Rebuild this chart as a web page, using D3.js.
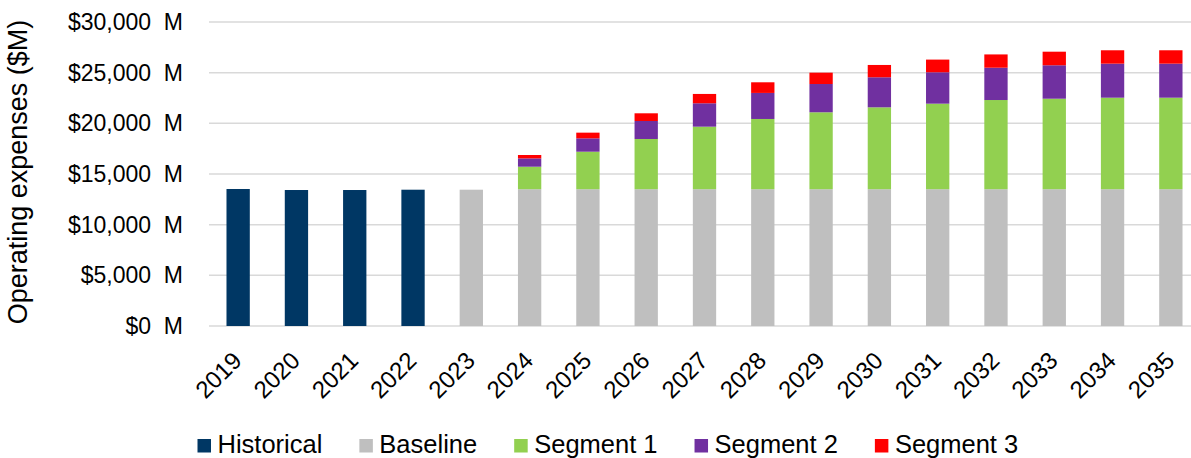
<!DOCTYPE html>
<html>
<head>
<meta charset="utf-8">
<script src="https://cdn.jsdelivr.net/npm/d3@7"></script>
<style>
  html, body { margin: 0; padding: 0; background: #fff; }
  svg { display: block; font-family: "Liberation Sans", Arial, sans-serif; }
  text { white-space: pre; fill: #000; }
</style>
</head>
<body>
<svg id="chart" width="1191" height="458"></svg>
<script>
// Operating expenses by year, $M
const years = ["2019","2020","2021","2022","2023","2024","2025","2026","2027",
               "2028","2029","2030","2031","2032","2033","2034","2035"];
const historical = [13520,13420,13420,13450,0,0,0,0,0,0,0,0,0,0,0,0,0];
const baseline   = [0,0,0,0,13450,13500,13500,13500,13500,13500,13500,13500,13500,13500,13500,13500,13500];
const segment1   = [0,0,0,0,0,2220,3700,4955,6170,6930,7590,8080,8440,8800,8930,9030,9030];
const segment2   = [0,0,0,0,0,820,1320,1775,2310,2570,2790,2965,3100,3190,3300,3360,3360];
const segment3   = [0,0,0,0,0,335,560,760,920,1050,1120,1215,1250,1310,1340,1320,1320];

const seriesNames = ["Historical","Baseline","Segment 1","Segment 2","Segment 3"];
const seriesColors = ["#003764","#BFBFBF","#92D050","#7030A0","#FF0000"];
const yTicks = [0,5000,10000,15000,20000,25000,30000];

const table = years.map((yr, i) => ({
  year: yr,
  "Historical": historical[i],
  "Baseline": baseline[i],
  "Segment 1": segment1[i],
  "Segment 2": segment2[i],
  "Segment 3": segment3[i]
}));

const svg = d3.select("#chart");
const plotLeft = 209, plotRight = 1200, plotTop = 22, plotBottom = 326;

const x = d3.scaleBand().domain(years).range([plotLeft, plotRight])
  .paddingInner(0.6).paddingOuter(0.3);
const y = d3.scaleLinear().domain([0, 30000]).range([plotBottom, plotTop]);
const color = d3.scaleOrdinal().domain(seriesNames).range(seriesColors);

// gridlines
svg.append("g").selectAll("line").data(yTicks).join("line")
  .attr("x1", plotLeft).attr("x2", 1191)
  .attr("y1", d => y(d)).attr("y2", d => y(d))
  .attr("stroke", "#D9D9D9").attr("stroke-width", 1.5);

// y axis labels
const fmt = d3.format(",");
const yAxis = svg.append("g").attr("transform", `translate(${plotLeft},0)`)
  .call(d3.axisLeft(y).tickValues(yTicks).tickSize(0).tickPadding(26)
    .tickFormat(d => "$" + fmt(d) + "  M"));
yAxis.select(".domain").remove();
yAxis.selectAll("text").attr("font-size", 23).attr("font-family", "Liberation Sans, Arial, sans-serif")
  .attr("fill", "#000");

// stacked bars
const stacked = d3.stack().keys(seriesNames)(table);
svg.append("g").selectAll("g").data(stacked).join("g")
  .attr("fill", d => color(d.key))
  .selectAll("rect").data(d => d.filter(p => p[1] - p[0] > 0)).join("rect")
  .attr("x", d => x(d.data.year))
  .attr("width", x.bandwidth())
  .attr("y", d => y(d[1]))
  .attr("height", d => y(d[0]) - y(d[1]));

// x axis labels, rotated
const xAxis = svg.append("g").attr("transform", `translate(0,${plotBottom})`)
  .call(d3.axisBottom(x).tickSize(0).tickPadding(0));
xAxis.select(".domain").remove();
xAxis.selectAll("text")
  .attr("font-size", 24).attr("font-family", "Liberation Sans, Arial, sans-serif")
  .attr("fill", "#000")
  .attr("text-anchor", "end")
  .attr("dy", null)
  .attr("y", null)
  .attr("transform", "translate(5,36) rotate(-45)");

// y axis title
svg.append("text")
  .attr("transform", "translate(27,172) rotate(-90)")
  .attr("text-anchor", "middle")
  .attr("font-size", 27)
  .text("Operating expenses ($M)");

// legend
const legend = svg.append("g");
let lx = 197.5;
seriesNames.forEach((name, i) => {
  legend.append("rect").attr("x", lx).attr("y", 439).attr("width", 13.5).attr("height", 13.5)
    .attr("fill", seriesColors[i]);
  const t = legend.append("text").attr("x", lx + 20).attr("y", 452.5)
    .attr("font-size", 25.5).text(name);
  lx = lx + 20 + t.node().getComputedTextLength() + 37;
});
</script>
</body>
</html>
